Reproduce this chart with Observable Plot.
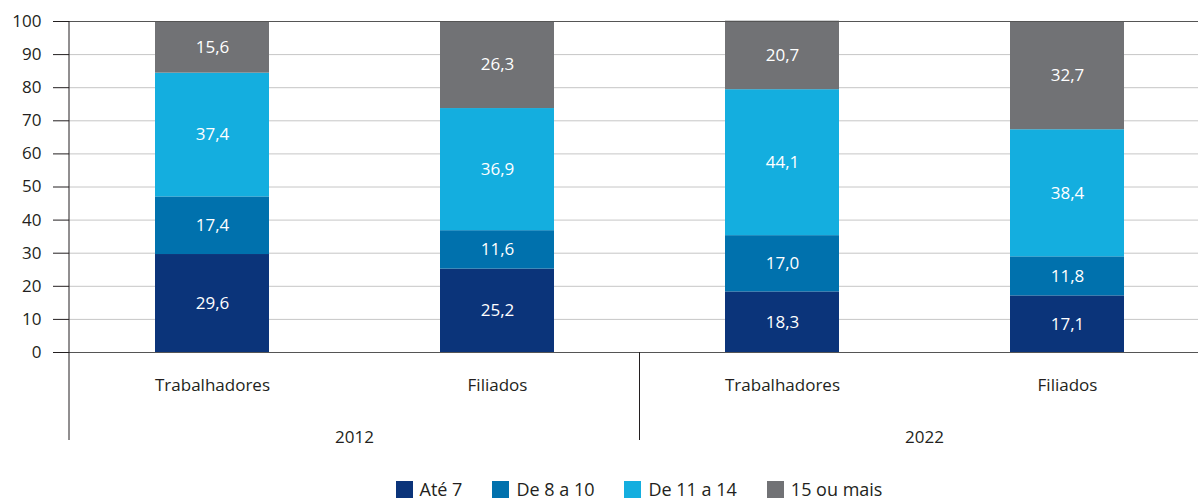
<!DOCTYPE html>
<html><head><meta charset="utf-8">
<script src="https://cdn.jsdelivr.net/npm/d3@7"></script>
<script src="https://cdn.jsdelivr.net/npm/@observablehq/plot@0.6"></script>
<style>
body{margin:0;overflow:hidden;background:#fff;font-family:"Open Sans",sans-serif;color:#231f20;}
#chart svg{display:block;}
#legend{width:1198px;height:20px;margin-top:9px;display:flex;justify-content:center;align-items:center;padding-left:80px;box-sizing:border-box;font-size:18px;line-height:20px;}
.item{display:flex;align-items:center;margin:0 15px;}
.sw{width:17px;height:17px;margin-right:7px;}
</style></head><body><div id="chart"></div><div id="legend"></div>
<script>
const years = ["2012", "2022"];
const groups = ["Trabalhadores", "Filiados"];
const series = ["Até 7", "De 8 a 10", "De 11 a 14", "15 ou mais"];
const colors = ["#0b347a", "#0071ad", "#14aedf", "#717275"];
const ate7 = [29.6, 25.2, 18.3, 17.1];
const de8a10 = [17.4, 11.6, 17.0, 11.8];
const de11a14 = [37.4, 36.9, 44.1, 38.4];
const quinzeOuMais = [15.6, 26.3, 20.7, 32.7];
const yTicks = [0, 10, 20, 30, 40, 50, 60, 70, 80, 90, 100];

const keys = years.flatMap(y => groups.map(g => y + "|" + g));
const seriesValues = [ate7, de8a10, de11a14, quinzeOuMais];
const data = [];
series.forEach((s, i) => keys.forEach((k, j) => data.push({key: k, series: s, value: seriesValues[i][j]})));
const fmt = v => v.toFixed(1).replace(".", ",");
const FS = 17;

const plot = Plot.plot({
  width: 1198, height: 470,
  marginLeft: 69, marginRight: 0, marginTop: 21, marginBottom: 118,
  style: {fontFamily: "'Open Sans', sans-serif", fontSize: FS + "px", color: "#231f20", background: "#fff"},
  x: {domain: keys, range: [69, 1209], paddingInner: 0.6, paddingOuter: 0.3, axis: null},
  y: {domain: [0, 100], axis: null},
  color: {domain: series, range: colors},
  marks: [
    Plot.gridY(yTicks.filter(t => t > 0 && t < 100), {stroke: "#c6c6c6", strokeOpacity: 1}),
    Plot.barY(data, {x: "key", y: "value", fill: "series", z: "series", order: series}),
    Plot.ruleY([0, 100], {stroke: "#555", strokeWidth: 1.2}),
    Plot.axisY(yTicks, {tickSize: 16, tickPadding: 12, stroke: "#231f20", fontSize: FS, label: null}),
    Plot.text(data, Plot.stackY({x: "key", y: "value", z: "series", order: series, text: d => fmt(d.value), fill: "white", fontSize: FS})),
    Plot.text(keys, {x: d => d, frameAnchor: "bottom", dy: 38, text: d => d.split("|")[1], fill: "#231f20", fontSize: FS})
  ]
});
document.getElementById("chart").appendChild(plot);

// group decorations derived from the scales
const X = plot.scale("x"), Y = plot.scale("y");
const svg = d3.select(plot);
const y0 = Y.apply(0), y100 = Y.apply(100);
const gap = (X.step - X.bandwidth) / 2;
svg.append("line").attr("x1", X.range[0]).attr("x2", X.range[0]).attr("y1", y100).attr("y2", y0 + 88).attr("stroke", "#231f20");
years.forEach((yr, i) => {
  const a = X.apply(yr + "|" + groups[0]), b = X.apply(yr + "|" + groups[groups.length - 1]);
  if (i > 0) svg.append("line").attr("x1", a - gap).attr("x2", a - gap).attr("y1", y0).attr("y2", y0 + 88).attr("stroke", "#231f20");
  svg.append("text").attr("x", (a + b + X.bandwidth) / 2).attr("y", y0 + 91).attr("text-anchor", "middle")
    .attr("font-size", FS).attr("fill", "#231f20").text(yr);
});

const legend = document.getElementById("legend");
series.forEach((s, i) => {
  const it = document.createElement("div"); it.className = "item";
  it.innerHTML = `<div class="sw" style="background:${colors[i]}"></div><span>${s}</span>`;
  legend.appendChild(it);
});
</script></body></html>
